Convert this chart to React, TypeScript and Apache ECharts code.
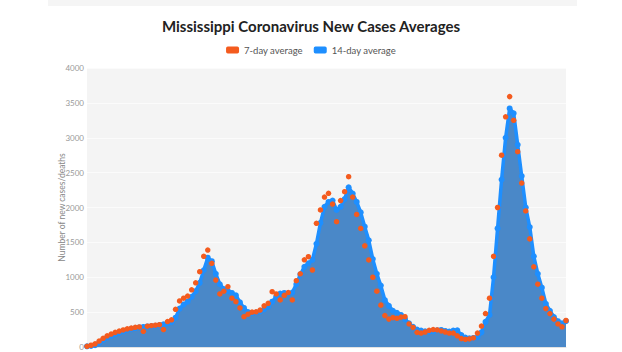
import React, { useEffect, useRef } from "react";
import * as echarts from "echarts";

const avg14: number[] = [
  10, 15, 25, 60, 100, 135, 160, 185, 205, 225, 244, 260, 272, 280, 288, 295, 300, 305, 315, 325,
  340, 355, 420, 550, 610, 650, 720, 800, 920, 1100, 1280, 1230, 1050, 900, 830, 800, 775, 740, 640, 560,
  500, 487, 495, 510, 540, 578, 650, 720, 765, 775, 770, 780, 900, 1040, 1150, 1200, 1250, 1480, 1780, 2010,
  2080, 2100, 1965, 2010, 2120, 2290, 2200, 2080, 1930, 1725, 1530, 1260, 1050, 880, 674, 590, 520, 490, 460, 400,
  340, 290, 250, 235, 225, 220, 225, 240, 245, 230, 220, 235, 240, 170, 135, 125, 130, 140, 210, 360,
  460, 1000, 1700, 2400, 3000, 3420, 3350, 2900, 2450, 2000, 1720, 1300, 1050, 850, 620, 520, 430, 370, 340, 370,
];

const avg7: number[] = [
  10, 25, 45, 85, 125, 160, 185, 210, 228, 245, 260, 272, 282, 288, 225, 298, 305, 312, 320, 250,
  365, 390, 540, 660, 700, 730, 820, 920, 1080, 1300, 1390, 1200, 960, 760, 800, 865, 700, 650, 560, 434,
  470, 500, 505, 530, 590, 626, 793, 760, 674, 740, 780, 674, 950, 1050, 1250, 1295, 1104, 1774, 1965, 2150,
  2204, 2050, 1797, 2100, 2227, 2442, 2150, 1900, 1700, 1450, 1248, 1000, 800, 600, 450, 400, 420, 411, 430, 434,
  330, 280, 210, 200, 215, 240, 250, 245, 230, 215, 200, 200, 160, 120, 110, 115, 130, 200, 300, 480,
  700, 1300, 2000, 2750, 3300, 3590, 3250, 2800, 2350, 1950, 1550, 1150, 900, 700, 550, 480, 400, 330, 290, 380,
];

const days: string[] = avg14.map((_, i) => String(i));

const yMin = 0;
const yMax = 4000;
const yStep = 500;

const TITLE = "Mississippi Coronavirus New Cases Averages";
const Y_NAME = "Number of new cases/deaths";
const NAME7 = "7-day average";
const NAME14 = "14-day average";

export default function App() {
  const ref = useRef<HTMLDivElement>(null);
  useEffect(() => {
    if (!ref.current) return;
    const chart = echarts.init(ref.current, null, { renderer: "svg" });
    chart.setOption({
      animation: false,
      backgroundColor: "#ffffff",
      textStyle: { fontFamily: "Lato, 'Noto Sans', sans-serif" },
      title: {
        text: TITLE,
        left: "center",
        top: 13,
        textStyle: { fontSize: 15, fontWeight: "bold", color: "#222", fontFamily: "Lato" },
      },
      legend: {
        top: 40,
        left: "center",
        itemWidth: 13,
        itemHeight: 7,
        itemGap: 11,
        icon: "roundRect",
        textStyle: { fontSize: 9.5, color: "#555", fontFamily: "Lato" },
        data: [
          { name: NAME7, itemStyle: { color: "#f45b1e" } },
          { name: NAME14, itemStyle: { color: "#1e8fff" } },
        ],
      },
      graphic: [
        { type: "rect", shape: { x: 48, y: 0, width: 529, height: 6 }, style: { fill: "#f5f5f5" }, silent: true },
      ],
      grid: {
        left: 87,
        right: 56,
        top: 68,
        bottom: 5,
        show: true,
        backgroundColor: "#f4f4f4",
        borderWidth: 0,
      },
      xAxis: {
        type: "category",
        data: days,
        boundaryGap: false,
        axisLabel: { show: false },
        axisTick: { show: false },
        axisLine: { show: true, lineStyle: { color: "#e2e2e2" } },
        splitLine: { show: false },
      },
      yAxis: {
        type: "value",
        min: yMin,
        max: yMax,
        interval: yStep,
        name: Y_NAME,
        nameLocation: "middle",
        nameRotate: 90,
        nameGap: 21,
        nameMoveOverlap: false,
        nameTextStyle: { fontSize: 8.5, color: "#888" },
        axisLabel: { fontSize: 8, color: "#999", margin: 3, formatter: (v: number) => String(v) },
        axisLine: { show: false },
        axisTick: { show: false },
        splitLine: { lineStyle: { color: "#fbfbfb", width: 1 } },
      },
      series: [
        {
          name: NAME14,
          type: "line",
          data: avg14,
          symbol: "circle",
          symbolSize: 6,
          showSymbol: true,
          showAllSymbol: true,
          itemStyle: { color: "#1e8fff" },
          lineStyle: { color: "#1e8fff", width: 3.5 },
          areaStyle: { color: "#4a88c8", opacity: 1 },
          z: 2,
        },
        {
          name: NAME7,
          type: "line",
          data: avg7,
          symbol: "circle",
          symbolSize: 5.5,
          showSymbol: true,
          showAllSymbol: true,
          itemStyle: { color: "#f45b1e" },
          lineStyle: { width: 0, opacity: 0 },
          z: 3,
        },
      ],
    });
    return () => chart.dispose();
  }, []);
  return <div ref={ref} style={{ position: "fixed", left: 0, top: 0, width: 622, height: 352 }} />;
}
